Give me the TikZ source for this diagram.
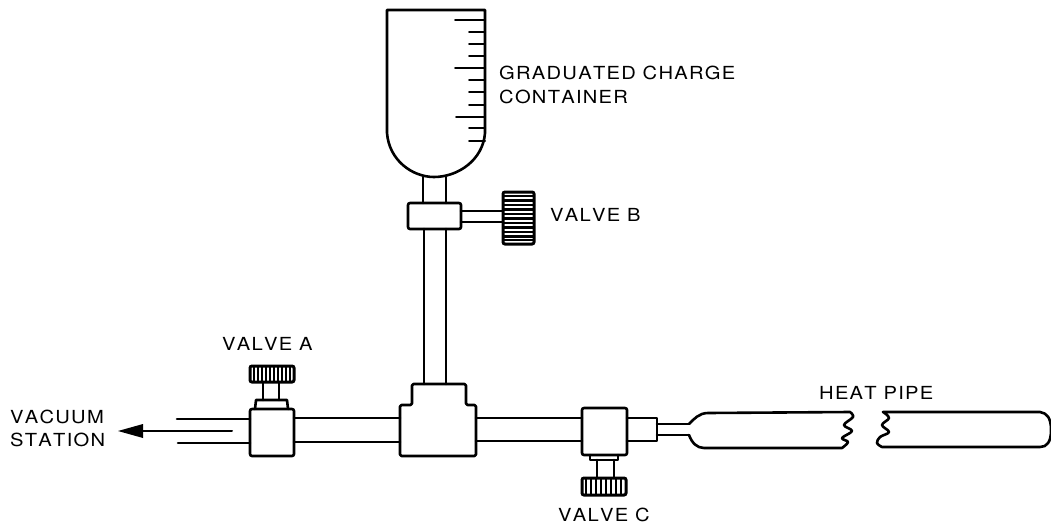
\documentclass[tikz,border=0pt]{standalone}
\usepackage{fontspec}
\setmainfont[FakeStretch=1.12,LetterSpace=7,Kerning=Off]{TeX Gyre Heros}
\begin{document}
\begin{tikzpicture}[x=1pt,y=-1pt,
  line/.style={line width=2.6pt,line join=round,line cap=round,black},
  thin line/.style={line width=2pt,line cap=round,black},
  hatch/.style={line width=2.4pt,black},
  knob/.style={line width=3pt,rounded corners=2pt,black},
  lab/.style={font=\fontsize{18}{24}\selectfont,text=black,inner sep=0pt,anchor=west,align=left}]
\useasboundingbox (0,0) rectangle (1051,527);
% graduated container
\draw[line] (485,10) -- (387,10) -- (387,133) .. controls (389,160) and (412,177) .. (434,177) .. controls (458,177) and (483,160) .. (485,133) -- cycle;
\foreach \y/\x in {20/455,32/469,44/469,56/469,68/455,80/469,92/469,105/469,117/456,128/469,141/469}
  \draw[thin line] (\x,\y) -- (485,\y);
% neck and valve B
\draw[line] (423,177) -- (423,203) (446,177) -- (446,203);
\draw[line,rounded corners=2pt] (408,203) rectangle (461,229);
\draw[line] (461,211) -- (503,211) (461,222) -- (503,222);
\draw[knob] (503,192) rectangle (534,244);
\foreach \y in {196,200.5,205,209.5,214,218.5,223,227.5,232,236.5,240}
  \draw[hatch] (503,\y) -- (534,\y);
% down pipe
\draw[line] (424,229) -- (424,384) (446,229) -- (446,384);
% T fitting
\draw[line,rounded corners=1.5pt] (400,456) -- (400,405) -- (412,405) -- (412,384) -- (466,384) -- (466,405) -- (476,405) -- (476,456) -- cycle;
% main pipe
\draw[line] (294,418) -- (400,418) (294,442) -- (400,442);
\draw[line] (476,418) -- (582,418) (476,441) -- (582,441);
% left pipe + arrow
\draw[line] (177,419) -- (250,419) (178,443) -- (250,443);
\draw[thin line] (232,431) -- (140,431);
\fill[black] (118,431) -- (143,424) -- (143,438) -- cycle;
% valve A
\draw[line,rounded corners=2pt] (250,409) rectangle (294,456);
\draw[line] (255,409) -- (256,400) -- (287,400) -- (288,409);
\draw[line] (263,400) -- (263,382) (279,400) -- (279,382);
\draw[knob] (250,366) rectangle (294,382);
\foreach \x in {254,258,262,266,270,274,278,282,286,290}
  \draw[hatch] (\x,365) -- (\x,382);
% valve C
\draw[line,rounded corners=2pt] (582,408) rectangle (627,455);
\draw[line] (590,455) -- (590,460) -- (618,460) -- (618,455);
\draw[line] (597,460) -- (597,478) (614,460) -- (614,478);
\draw[knob] (582,478) rectangle (626,495);
\foreach \x in {586,591,596,601,606,611,616,621}
  \draw[hatch] (\x,477) -- (\x,496);
% reducer
\draw[line] (627,418) -- (657,418) -- (657,441) -- (627,441);
\draw[line] (657,424) -- (689,424) (657,435) -- (689,435);
% heat pipe left part
\draw[line] (689,424) .. controls (694,419) and (699,413) .. (708,413) -- (850,412)
  plot[smooth,tension=.6] coordinates {(850,412) (853,417) (844,425) (852,431) (842,438) (848,442) (842,448)}
  (842,448) -- (704,448) .. controls (697,448) and (692,443) .. (689,435);
% heat pipe right part
\draw[line] (883,412) -- (1040,412) .. controls (1047,413) and (1051,418) .. (1051,430)
  .. controls (1051,442) and (1047,447) .. (1040,447) -- (882,447)
  plot[smooth,tension=.6] coordinates {(882,447) (877,443) (880,437) (889,432) (882,425) (889,418) (883,412)};
% labels
\node[lab] (gcc) at (499,72.5) {GRADUATED CHARGE};
\node[lab] (gcc2) at (499,97) {CONTAINER};
\node[lab] (vb) at (550,215) {VALVE B};
\node[lab] (va) at (222,344) {VALVE A};
\node[lab] (vs) at (10,417) {VACUUM};
\node[lab] (vs2) at (10,440) {STATION};
\node[lab] (vc) at (558,515) {VALVE C};
\node[lab] (hp) at (819,393) {HEAT PIPE};
\end{tikzpicture}
\end{document}
